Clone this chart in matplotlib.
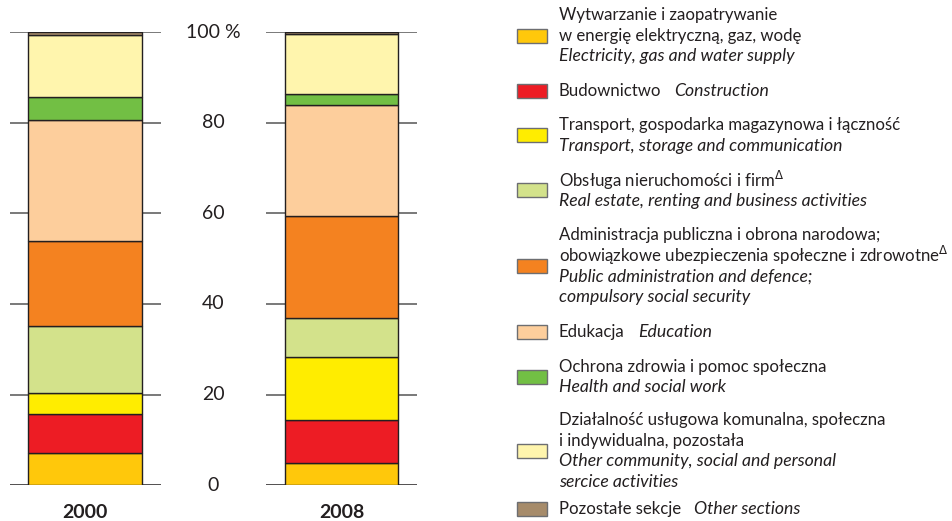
import numpy as np
import matplotlib
matplotlib.use('Agg')
import matplotlib.pyplot as plt
from matplotlib.patches import Rectangle

# Dane: udział sekcji (%) w latach 2000 i 2008
lata = ['2000', '2008']
energia = [7.1, 5.0]
budownictwo = [8.6, 9.4]
transport = [4.6, 13.8]
nieruchomosci = [14.9, 8.6]
administracja = [18.8, 22.5]
edukacja = [26.6, 24.5]
zdrowie = [5.1, 2.5]
uslugi = [13.6, 13.3]
pozostale = [0.7, 0.4]

serie = [energia, budownictwo, transport, nieruchomosci, administracja,
         edukacja, zdrowie, uslugi, pozostale]
kolory = ['#FFC80B', '#ED1C24', '#FFED00', '#D3E28B', '#F48220',
          '#FDCE9C', '#72BF44', '#FFF5AD', '#A68B6A']

# Opisy legendy: (polski, angielski, w jednej linii?)
opisy_pl = [
    'Wytwarzanie i zaopatrywanie\nw energię elektryczną, gaz, wodę',
    'Budownictwo',
    'Transport, gospodarka magazynowa i łączność',
    'Obsługa nieruchomości i firm$^{\\Delta}$',
    'Administracja publiczna i obrona narodowa;\nobowiązkowe ubezpieczenia społeczne i zdrowotne$^{\\Delta}$',
    'Edukacja',
    'Ochrona zdrowia i pomoc społeczna',
    'Działalność usługowa komunalna, społeczna\ni indywidualna, pozostała',
    'Pozostałe sekcje',
]
opisy_en = [
    'Electricity, gas and water supply',
    'Construction',
    'Transport, storage and communication',
    'Real estate, renting and business activities',
    'Public administration and defence;\ncompulsory social security',
    'Education',
    'Health and social work',
    'Other community, social and personal\nsercice activities',
    'Other sections',
]
w_linii = [False, True, False, False, False, True, False, False, True]
ticki = [0, 20, 40, 60, 80, 100]
ticki_txt = ['0', '20', '40', '60', '80', '100 %']

plt.rcParams['font.family'] = ['Lato', 'DejaVu Sans']
W, H = 953, 521
fig = plt.figure(figsize=(W / 100, H / 100), dpi=100)

# Wykres słupkowy
y0, y100 = 485.3, 32.0
ax = fig.add_axes([10 / W, (H - y0) / H, 408 / W, (y0 - y100) / H])
x = np.arange(len(lata))
szer = 0.444
ax.set_xlim(-0.294, 1.2986)
ax.set_ylim(0, 100)

dol = np.zeros(len(lata))
for wart, kol in zip(serie, kolory):
    ax.bar(x, wart, szer, bottom=dol, color=kol, edgecolor='#231F20',
           linewidth=1.0, zorder=3)
    dol += np.array(wart)

# kreski podziałki po obu stronach słupków
wys = 0.073
for xi in x:
    for t in ticki:
        ax.plot([xi - szer / 2 - wys, xi + szer / 2 + wys], [t, t],
                color='#231F20' if t == 0 else '#555555', lw=1.1, zorder=1,
                solid_capstyle='butt')

for t, s in zip(ticki, ticki_txt):
    ax.text(0.5, t, s, ha='center', va='center', fontsize=14, color='#231F20')
for xi, rok in zip(x, lata):
    ax.text(xi, -6, rok, ha='center', va='center', fontsize=14,
            fontweight='bold', color='#231F20', clip_on=False)
ax.axis('off')

# Legenda rysowana ręcznie
lg = fig.add_axes([0, 0, 1, 1])
lg.set_xlim(0, W)
lg.set_ylim(H, 0)
lg.axis('off')

pierwsza_linia = [15, 91, 125, 180, 235, 332.3, 366.7, 420, 509.3]
odstep = 20.6
x_txt = 559
fs = 12.1
fs_it = 12.7
renderer = fig.canvas.get_renderer()
for i in range(len(opisy_pl)):
    ys = pierwsza_linia[i]
    if w_linii[i]:
        t = lg.text(x_txt, ys, opisy_pl[i], fontsize=fs, va='center',
                    color='#231F20')
        bb = t.get_window_extent(renderer)
        lg.text(x_txt + bb.width + 13, ys, opisy_en[i], fontsize=fs_it,
                style='italic', va='center', color='#231F20')
        linie = [ys]
    else:
        pl = opisy_pl[i].split('\n')
        en = opisy_en[i].split('\n')
        linie = [ys + k * odstep for k in range(len(pl) + len(en))]
        for k, s in enumerate(pl):
            lg.text(x_txt, linie[k], s, fontsize=fs, va='center',
                    color='#231F20')
        for k, s in enumerate(en):
            lg.text(x_txt, linie[len(pl) + k], s, fontsize=fs_it, va='center',
                    style='italic', color='#231F20')
    srodek = np.mean(linie)
    lg.add_patch(Rectangle((517, srodek - 7), 30, 14, facecolor=kolory[i],
                           edgecolor='#6D6E71', linewidth=1.0))

fig.savefig('out.png', dpi=100, facecolor='white')
